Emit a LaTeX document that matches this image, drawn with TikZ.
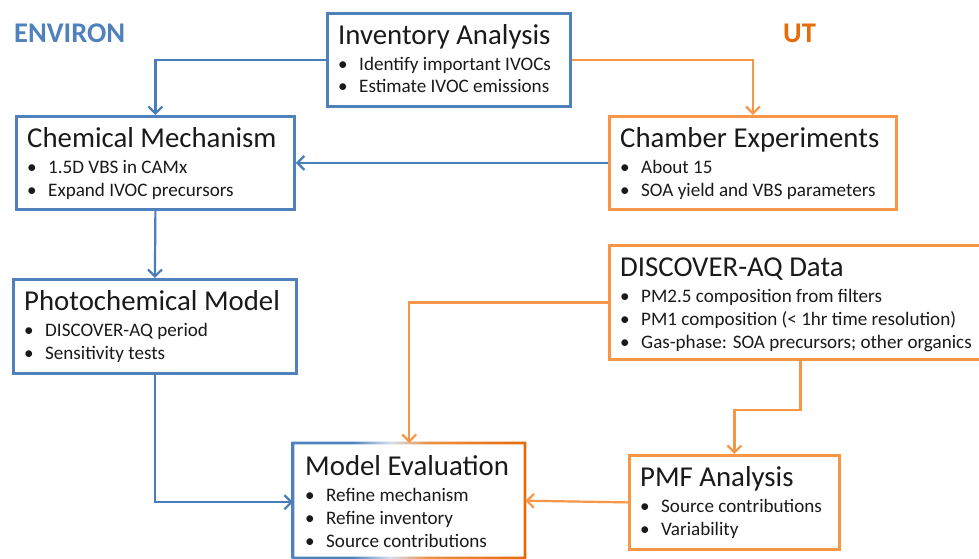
\documentclass[tikz,border=0pt]{standalone}
\usepackage{fontspec}
\setmainfont{Carlito}
\usetikzlibrary{arrows.meta}
\definecolor{cblue}{HTML}{4F81BD}
\definecolor{lblue}{HTML}{4A7EBB}
\definecolor{corange}{HTML}{F79646}
\definecolor{codark}{HTML}{E46C0A}
\definecolor{ctext}{HTML}{1A1A1A}
\pgfdeclarehorizontalshading{evalshade}{100bp}{color(0bp)=(cblue); color(25bp)=(cblue); color(38bp)=(cblue); color(46bp)=(cblue!25); color(54bp)=(corange!80!brown); color(75bp)=(codark); color(100bp)=(codark)}
\tikzset{
  bluebox/.style={draw=cblue, line width=2.8pt, rectangle, inner sep=0pt},
  orangebox/.style={draw=corange, line width=2.8pt, rectangle, inner sep=0pt},
  plainbox/.style={rectangle, inner sep=0pt},
  titletxt/.style={anchor=base west, inner sep=0pt, text=ctext, font=\fontsize{28.8}{30}\selectfont},
  itemtxt/.style={anchor=base west, inner sep=0pt, text=ctext, font=\fontsize{19.1}{23}\selectfont},
  headtxt/.style={anchor=base west, inner sep=0pt, font=\fontsize{28.5}{30}\selectfont\bfseries},
  bluearrow/.style={draw=lblue, line width=2.2pt, -{Straight Barb[length=7pt,width=14pt]}},
  orangearrow/.style={draw=corange, line width=2.2pt, -{Straight Barb[length=7pt,width=14pt]}},
}
% name, style, x, y, w, h, title, spacing, items
\newcommand\flowbox[9]{%
  \node[#2, minimum width=#5pt, minimum height=#6pt, anchor=north west] (#1) at (#3,#4) {};
  \node[titletxt] (#1-t) at ([xshift=12pt,yshift=-32.5pt]#1.north west) {#7};
  \foreach \txt [count=\i] in {#9} {
    \node[itemtxt] (#1-\i) at ([xshift=12pt,yshift={-(58.5+(\i-1)*#8)*1pt}]#1.north west) {\makebox[21pt][l]{•}\txt};
  }%
}
\begin{document}
\begin{tikzpicture}[x=1pt,y=-1pt]
\useasboundingbox (0,0) rectangle (979,559);
\fill[white] (0,0) rectangle (979,559);
\begin{scope}
\clip (0,0) rectangle (979,559);
\node[headtxt, text=cblue] (environ) at (14,43) {ENVIRON};
\node[headtxt, text=codark] (ut) at (783,43) {UT};

\flowbox{inv}{bluebox}{326}{12}{243}{93}{Inventory Analysis}{22}{Identify important IVOCs, Estimate IVOC emissions}
\flowbox{chem}{bluebox}{15}{115}{278}{93}{Chemical Mechanism}{23}{1.5D VBS in CAMx, Expand IVOC precursors}
\flowbox{chamber}{orangebox}{608}{115}{287}{93}{Chamber Experiments}{23}{About 15, SOA yield and VBS parameters}
\flowbox{photo}{bluebox}{12}{278}{283}{94}{Photochemical Model}{23}{DISCOVER-AQ period, Sensitivity tests}
\flowbox{disc}{orangebox}{608}{244}{382}{114}{DISCOVER-AQ Data}{23}{PM2.5 composition from filters, PM1 composition (< 1hr time resolution), Gas-phase: SOA precursors; other organics}
\flowbox{pmf}{orangebox}{628}{454}{210}{94}{PMF Analysis}{23}{Source contributions, Variability}
\shade[shading=evalshade, even odd rule] (291.6,441.6) rectangle (526.4,559.4) (294.4,444.4) rectangle (523.6,556.6);
\flowbox{meval}{plainbox}{293}{443}{232}{115}{Model Evaluation}{23}{Refine mechanism, Refine inventory, Source contributions}

\draw[bluearrow] (inv.west) -| (chem.north);
\draw[orangearrow] (inv.east) -| (chamber.north);
\draw[bluearrow] (chamber.west) -- (chem.east);
\draw[bluearrow] (chem.south) -- (photo.north);
\draw[bluearrow] (photo.south) |- ([yshift=-1.5pt]meval.west);
\draw[orangearrow] (disc.west) -| (meval.north);
\coordinate (bend) at ([yshift=-49pt]disc.south);
\draw[orangearrow] (disc.south) -- (bend) -| (pmf.north);
\draw[orangearrow] (pmf.west) -- (meval.east);
\end{scope}
\end{tikzpicture}
\end{document}
